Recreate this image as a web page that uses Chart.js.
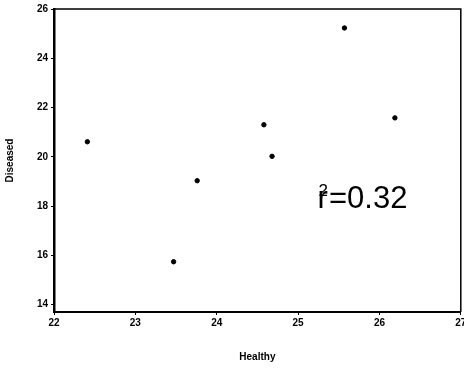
<!DOCTYPE html>
<html>
<head>
<meta charset="utf-8">
<script src="https://cdn.jsdelivr.net/npm/chart.js@4"></script>
<style>
  body { margin: 0; background: #fff; }
  #wrap { width: 464px; height: 369px; }
</style>
</head>
<body>
<div id="wrap"><canvas id="myChart"></canvas></div>
<script>
// valeurs
const healthy = [22.41, 23.47, 23.76, 24.58, 24.68, 25.57, 26.19];
const diseased = [20.61, 15.74, 19.03, 21.30, 20.02, 25.23, 21.58];
const xTicks = [22, 23, 24, 25, 26, 27];
const yTicks = [14, 16, 18, 20, 22, 24, 26];
const rLabel = 'r';
const rPower = '2';
const rValue = '=0.32';

const points = healthy.map((h, i) => ({ x: h, y: diseased[i] }));

const tickFont = { family: 'Liberation Sans', size: 10, weight: 'bold' };

// cadre du graphique + texte r²
const framePlugin = {
    id: 'frame',
    afterDraw(chart) {
        const { ctx, chartArea: a, scales } = chart;
        ctx.save();
        ctx.strokeStyle = '#000';
        ctx.lineWidth = 1.5;
        ctx.beginPath();
        ctx.moveTo(a.left, a.top);
        ctx.lineTo(a.right, a.top);
        ctx.lineTo(a.right, a.bottom);
        ctx.stroke();

        // annotation r²
        const x0 = scales.x.getPixelForValue(25.24);
        const y0 = scales.y.getPixelForValue(17.94);
        ctx.fillStyle = '#000';
        ctx.textBaseline = 'alphabetic';
        ctx.font = '31px "Liberation Sans"';
        ctx.fillText(rLabel, x0, y0);
        const rw = ctx.measureText(rLabel).width;
        ctx.font = '17px "Liberation Sans"';
        ctx.fillText(rPower, x0 + 1, y0 - 12);
        ctx.font = '31px "Liberation Sans"';
        ctx.fillText(rValue, x0 + rw + 1, y0);
        ctx.restore();
    }
};

const ctx = document.getElementById('myChart').getContext('2d');
const myChart = new Chart(ctx, {
    type: 'scatter',
    data: {
        datasets: [{
            data: points,
            backgroundColor: '#000',
            borderColor: '#000',
            pointRadius: 2.2,
            pointHoverRadius: 2.2
        }]
    },
    options: {
        responsive: true,
        maintainAspectRatio: false,
        animation: false,
        layout: { padding: { left: 0, right: 3, top: 9, bottom: 0 } },
        plugins: {
            legend: { display: false },
            tooltip: { enabled: false }
        },
        scales: {
            x: {
                type: 'linear',
                min: 22,
                max: 27,
                afterBuildTicks: s => { s.ticks = xTicks.map(v => ({ value: v })); },
                afterFit: s => { s.height = 57; s.paddingLeft = 0; s.paddingRight = 0; },
                grid: { drawOnChartArea: false, drawTicks: true, tickLength: 3, color: '#000' },
                border: { display: true, color: '#000', width: 2 },
                ticks: { color: '#000', font: tickFont, padding: 2, maxRotation: 0 },
                title: {
                    display: true,
                    text: 'Healthy',
                    color: '#000',
                    font: { family: 'Liberation Sans', size: 10, weight: 'bold' },
                    padding: { top: 0, bottom: 6 }
                }
            },
            y: {
                type: 'linear',
                min: 13.7,
                max: 26,
                afterBuildTicks: s => { s.ticks = yTicks.map(v => ({ value: v })); },
                afterFit: s => { s.width = 54; s.paddingTop = 0; s.paddingBottom = 0; },
                grid: { drawOnChartArea: false, drawTicks: true, tickLength: 3, color: '#000' },
                border: { display: true, color: '#000', width: 2.5 },
                ticks: { color: '#000', font: tickFont, padding: 3 },
                title: {
                    display: true,
                    text: 'Diseased',
                    color: '#000',
                    font: { family: 'Liberation Sans', size: 10, weight: 'bold' },
                    padding: { top: 4, bottom: 4 }
                }
            }
        }
    },
    plugins: [framePlugin]
});
</script>
</body>
</html>
